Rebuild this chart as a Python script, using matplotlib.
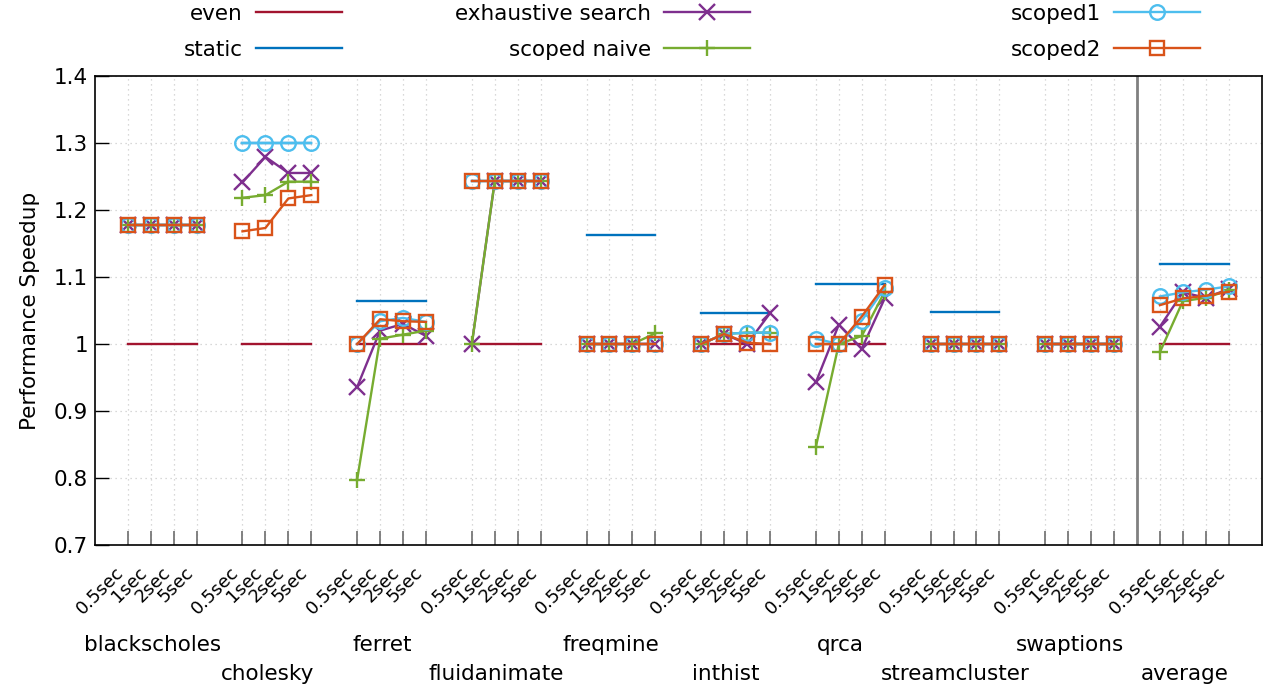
import matplotlib
matplotlib.use("Agg")
import matplotlib.pyplot as plt
import matplotlib.transforms as mtransforms
import numpy as np

# ---------------- data ----------------
groups = ["blackscholes", "cholesky", "ferret", "fluidanimate", "freqmine",
          "inthist", "qrca", "streamcluster", "swaptions", "average"]
intervals = ["0.5sec", "1sec", "2sec", "5sec"]

even = [
    [1.0, 1.0, 1.0, 1.0], [1.0, 1.0, 1.0, 1.0], [1.0, 1.0, 1.0, 1.0],
    [1.0, 1.0, 1.0, 1.0], [1.0, 1.0, 1.0, 1.0], [1.0, 1.0, 1.0, 1.0],
    [1.0, 1.0, 1.0, 1.0], [1.0, 1.0, 1.0, 1.0], [1.0, 1.0, 1.0, 1.0],
    [1.0, 1.0, 1.0, 1.0],
]
static = [
    [1.178, 1.178, 1.178, 1.178], [1.300, 1.300, 1.300, 1.300],
    [1.064, 1.064, 1.064, 1.064], [1.243, 1.243, 1.243, 1.243],
    [1.162, 1.162, 1.162, 1.162], [1.046, 1.046, 1.046, 1.046],
    [1.089, 1.089, 1.089, 1.089], [1.048, 1.048, 1.048, 1.048],
    [1.0, 1.0, 1.0, 1.0], [1.119, 1.119, 1.119, 1.119],
]
exhaustive = [
    [1.178, 1.178, 1.178, 1.178], [1.241, 1.279, 1.255, 1.255],
    [0.936, 1.020, 1.030, 1.012], [1.0, 1.243, 1.243, 1.243],
    [1.0, 1.0, 1.0, 1.0], [1.0, 1.015, 1.0, 1.046],
    [0.943, 1.029, 0.993, 1.068], [1.0, 1.0, 1.0, 1.0],
    [1.0, 1.0, 1.0, 1.0], [1.026, 1.077, 1.069, 1.082],
]
scoped_naive = [
    [1.178, 1.178, 1.178, 1.178], [1.218, 1.222, 1.242, 1.242],
    [0.798, 1.008, 1.014, 1.020], [1.0, 1.243, 1.243, 1.243],
    [1.0, 1.0, 1.0, 1.016], [1.0, 1.015, 1.017, 1.017],
    [0.847, 1.0, 1.012, 1.078], [1.0, 1.0, 1.0, 1.0],
    [1.0, 1.0, 1.0, 1.0], [0.988, 1.064, 1.069, 1.080],
]
scoped1 = [
    [1.178, 1.178, 1.178, 1.178], [1.300, 1.300, 1.300, 1.300],
    [1.0, 1.034, 1.039, 1.033], [1.243, 1.243, 1.243, 1.243],
    [1.0, 1.0, 1.0, 1.0], [1.0, 1.015, 1.017, 1.017],
    [1.008, 1.0, 1.035, 1.083], [1.0, 1.0, 1.0, 1.0],
    [1.0, 1.0, 1.0, 1.0], [1.071, 1.077, 1.081, 1.086],
]
scoped2 = [
    [1.178, 1.178, 1.178, 1.178], [1.168, 1.173, 1.217, 1.222],
    [1.0, 1.037, 1.034, 1.033], [1.243, 1.243, 1.243, 1.243],
    [1.0, 1.0, 1.0, 1.0], [1.0, 1.015, 1.002, 1.0],
    [1.0, 1.0, 1.041, 1.088], [1.0, 1.0, 1.0, 1.0],
    [1.0, 1.0, 1.0, 1.0], [1.058, 1.068, 1.072, 1.078],
]
yticks = [0.7, 0.8, 0.9, 1.0, 1.1, 1.2, 1.3, 1.4]
ytick_labels = ["0.7", "0.8", "0.9", "1", "1.1", "1.2", "1.3", "1.4"]

# ---------------- style ----------------
plt.rcParams["font.family"] = ["DejaVu Sans"]
FS = 15.5
series = [
    ("even", even, dict(color="#A2142F", marker=None)),
    ("static", static, dict(color="#0072BD", marker=None)),
    ("exhaustive search", exhaustive, dict(color="#7E2F8E", marker="x", ms=11)),
    ("scoped naive", scoped_naive, dict(color="#77AC30", marker="+", ms=12)),
    ("scoped1", scoped1, dict(color="#4DBEEE", marker="o", ms=10.5)),
    ("scoped2", scoped2, dict(color="#D95319", marker="s", ms=10.5)),
]

fig = plt.figure(figsize=(12.63, 6.87), dpi=100)
ax = fig.add_axes([95 / 1263, 1 - 545.3 / 687, (1262 - 95) / 1263, (545.3 - 75.7) / 687])

n_int = len(intervals)
gap = n_int + 1
xpos_all = []
handles = {}
for name, data, st in series:
    for g, vals in enumerate(data):
        xs = [g * gap + i for i in range(n_int)]
        (ln,) = ax.plot(xs, vals, color=st["color"], lw=1.7,
                        marker=st["marker"], ms=st.get("ms", 0),
                        mew=1.7, mfc="none", label=name, zorder=3)
        if g == 0:
            handles[name] = ln
for g in range(len(groups)):
    xpos_all += [g * gap + i for i in range(n_int)]

# separator before average
ax.axvline((len(groups) - 1) * gap - 1, color="#808080", lw=2, zorder=2)

ax.set_xlim(-1.43, 49.45)
ax.set_ylim(0.7, 1.4)
ax.set_yticks(yticks)
ax.set_yticklabels(ytick_labels, fontsize=FS)
ax.set_xticks(xpos_all)
ax.set_xticklabels(intervals * len(groups), rotation=45, ha="right",
                   fontsize=13)
ax.tick_params(axis="y", direction="in", length=10, width=1, pad=5)
ax.tick_params(axis="x", direction="in", length=10, width=1.3,
               color="#777777", pad=13)
ax.grid(True, color="#cccccc", linestyle=(0, (1, 3)), lw=0.9)
ax.set_axisbelow(True)
for sp in ax.spines.values():
    sp.set_linewidth(1.2)
ax.set_ylabel("Performance Speedup", fontsize=FS, labelpad=10)

# group labels
trans = mtransforms.blended_transform_factory(ax.transData, fig.transFigure)
for g, name in enumerate(groups):
    cx = g * gap + (n_int - 1) / 2 - 0.42
    y = 1 - 645 / 687 if g % 2 == 0 else 1 - 674 / 687
    ax.text(cx, y, name, transform=trans, ha="center", va="center",
            fontsize=FS, clip_on=False)

# legends: three columns, labels left of handles
cols = [("even", "static", 342), ("exhaustive search", "scoped naive", 750),
        ("scoped1", "scoped2", 1200)]
for a, b, xr in cols:
    leg = fig.legend([handles[a], handles[b]], [a, b], loc="upper right",
                     bbox_to_anchor=(xr / 1263, 1 - 4 / 687),
                     frameon=False, markerfirst=False, fontsize=FS,
                     handlelength=4.0, handletextpad=0.6, labelspacing=0.72,
                     borderpad=0, borderaxespad=0, numpoints=1)
    for t in leg.get_texts():
        t.set_ha("right")

fig.savefig("out.png", dpi=100)
